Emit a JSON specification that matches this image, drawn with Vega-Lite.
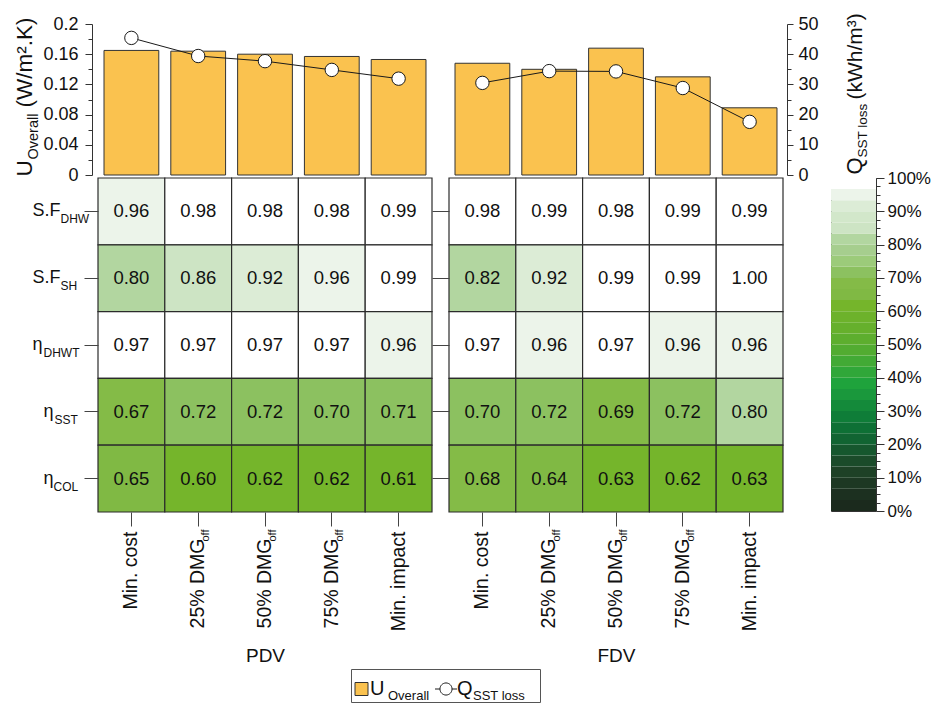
{
  "$schema": "https://vega.github.io/schema/vega-lite/v6.json",
  "padding": {"left": 13, "top": 12, "right": 2, "bottom": 0},
  "config": {
    "font": "Liberation Sans",
    "view": {"stroke": null},
    "axis": {"grid": false, "labelFont": "Liberation Sans", "titleFont": "Liberation Sans", "titleFontWeight": "normal", "labelColor": "#111", "titleColor": "#111", "domainColor": "#333", "tickColor": "#333", "labelOverlap": false}
  },
  "datasets": {
    "perf": [
      {"design": "PDV", "scheme": "Min. cost", "U": 0.165, "Q": 45.4},
      {"design": "PDV", "scheme": "25% DMG off", "U": 0.164, "Q": 39.4},
      {"design": "PDV", "scheme": "50% DMG off", "U": 0.160, "Q": 37.7},
      {"design": "PDV", "scheme": "75% DMG off", "U": 0.157, "Q": 34.8},
      {"design": "PDV", "scheme": "Min. impact", "U": 0.153, "Q": 31.9},
      {"design": "FDV", "scheme": "Min. cost", "U": 0.148, "Q": 30.5},
      {"design": "FDV", "scheme": "25% DMG off", "U": 0.140, "Q": 34.4},
      {"design": "FDV", "scheme": "50% DMG off", "U": 0.168, "Q": 34.3},
      {"design": "FDV", "scheme": "75% DMG off", "U": 0.130, "Q": 28.8},
      {"design": "FDV", "scheme": "Min. impact", "U": 0.089, "Q": 17.6}
    ],
    "heat": [
      {"design": "PDV", "metric": "S.F_DHW", "scheme": "Min. cost", "value": 0.96},
      {"design": "PDV", "metric": "S.F_DHW", "scheme": "25% DMG off", "value": 0.98},
      {"design": "PDV", "metric": "S.F_DHW", "scheme": "50% DMG off", "value": 0.98},
      {"design": "PDV", "metric": "S.F_DHW", "scheme": "75% DMG off", "value": 0.98},
      {"design": "PDV", "metric": "S.F_DHW", "scheme": "Min. impact", "value": 0.99},
      {"design": "PDV", "metric": "S.F_SH", "scheme": "Min. cost", "value": 0.80},
      {"design": "PDV", "metric": "S.F_SH", "scheme": "25% DMG off", "value": 0.86},
      {"design": "PDV", "metric": "S.F_SH", "scheme": "50% DMG off", "value": 0.92},
      {"design": "PDV", "metric": "S.F_SH", "scheme": "75% DMG off", "value": 0.96},
      {"design": "PDV", "metric": "S.F_SH", "scheme": "Min. impact", "value": 0.99},
      {"design": "PDV", "metric": "η_DHWT", "scheme": "Min. cost", "value": 0.97},
      {"design": "PDV", "metric": "η_DHWT", "scheme": "25% DMG off", "value": 0.97},
      {"design": "PDV", "metric": "η_DHWT", "scheme": "50% DMG off", "value": 0.97},
      {"design": "PDV", "metric": "η_DHWT", "scheme": "75% DMG off", "value": 0.97},
      {"design": "PDV", "metric": "η_DHWT", "scheme": "Min. impact", "value": 0.96},
      {"design": "PDV", "metric": "η_SST", "scheme": "Min. cost", "value": 0.67},
      {"design": "PDV", "metric": "η_SST", "scheme": "25% DMG off", "value": 0.72},
      {"design": "PDV", "metric": "η_SST", "scheme": "50% DMG off", "value": 0.72},
      {"design": "PDV", "metric": "η_SST", "scheme": "75% DMG off", "value": 0.70},
      {"design": "PDV", "metric": "η_SST", "scheme": "Min. impact", "value": 0.71},
      {"design": "PDV", "metric": "η_COL", "scheme": "Min. cost", "value": 0.65},
      {"design": "PDV", "metric": "η_COL", "scheme": "25% DMG off", "value": 0.60},
      {"design": "PDV", "metric": "η_COL", "scheme": "50% DMG off", "value": 0.62},
      {"design": "PDV", "metric": "η_COL", "scheme": "75% DMG off", "value": 0.62},
      {"design": "PDV", "metric": "η_COL", "scheme": "Min. impact", "value": 0.61},
      {"design": "FDV", "metric": "S.F_DHW", "scheme": "Min. cost", "value": 0.98},
      {"design": "FDV", "metric": "S.F_DHW", "scheme": "25% DMG off", "value": 0.99},
      {"design": "FDV", "metric": "S.F_DHW", "scheme": "50% DMG off", "value": 0.98},
      {"design": "FDV", "metric": "S.F_DHW", "scheme": "75% DMG off", "value": 0.99},
      {"design": "FDV", "metric": "S.F_DHW", "scheme": "Min. impact", "value": 0.99},
      {"design": "FDV", "metric": "S.F_SH", "scheme": "Min. cost", "value": 0.82},
      {"design": "FDV", "metric": "S.F_SH", "scheme": "25% DMG off", "value": 0.92},
      {"design": "FDV", "metric": "S.F_SH", "scheme": "50% DMG off", "value": 0.99},
      {"design": "FDV", "metric": "S.F_SH", "scheme": "75% DMG off", "value": 0.99},
      {"design": "FDV", "metric": "S.F_SH", "scheme": "Min. impact", "value": 1.00},
      {"design": "FDV", "metric": "η_DHWT", "scheme": "Min. cost", "value": 0.97},
      {"design": "FDV", "metric": "η_DHWT", "scheme": "25% DMG off", "value": 0.96},
      {"design": "FDV", "metric": "η_DHWT", "scheme": "50% DMG off", "value": 0.97},
      {"design": "FDV", "metric": "η_DHWT", "scheme": "75% DMG off", "value": 0.96},
      {"design": "FDV", "metric": "η_DHWT", "scheme": "Min. impact", "value": 0.96},
      {"design": "FDV", "metric": "η_SST", "scheme": "Min. cost", "value": 0.70},
      {"design": "FDV", "metric": "η_SST", "scheme": "25% DMG off", "value": 0.72},
      {"design": "FDV", "metric": "η_SST", "scheme": "50% DMG off", "value": 0.69},
      {"design": "FDV", "metric": "η_SST", "scheme": "75% DMG off", "value": 0.72},
      {"design": "FDV", "metric": "η_SST", "scheme": "Min. impact", "value": 0.80},
      {"design": "FDV", "metric": "η_COL", "scheme": "Min. cost", "value": 0.68},
      {"design": "FDV", "metric": "η_COL", "scheme": "25% DMG off", "value": 0.64},
      {"design": "FDV", "metric": "η_COL", "scheme": "50% DMG off", "value": 0.63},
      {"design": "FDV", "metric": "η_COL", "scheme": "75% DMG off", "value": 0.62},
      {"design": "FDV", "metric": "η_COL", "scheme": "Min. impact", "value": 0.63}
    ],
    "levels": [
      {"lo": 0, "hi": 0.0333}, {"lo": 0.0333, "hi": 0.0667}, {"lo": 0.0667, "hi": 0.1},
      {"lo": 0.1, "hi": 0.1333}, {"lo": 0.1333, "hi": 0.1667}, {"lo": 0.1667, "hi": 0.2},
      {"lo": 0.2, "hi": 0.2333}, {"lo": 0.2333, "hi": 0.2667}, {"lo": 0.2667, "hi": 0.3},
      {"lo": 0.3, "hi": 0.3333}, {"lo": 0.3333, "hi": 0.3667}, {"lo": 0.3667, "hi": 0.4},
      {"lo": 0.4, "hi": 0.4333}, {"lo": 0.4333, "hi": 0.4667}, {"lo": 0.4667, "hi": 0.5},
      {"lo": 0.5, "hi": 0.5333}, {"lo": 0.5333, "hi": 0.5667}, {"lo": 0.5667, "hi": 0.6},
      {"lo": 0.6, "hi": 0.6333}, {"lo": 0.6333, "hi": 0.6667}, {"lo": 0.6667, "hi": 0.7},
      {"lo": 0.7, "hi": 0.7333}, {"lo": 0.7333, "hi": 0.7667}, {"lo": 0.7667, "hi": 0.8},
      {"lo": 0.8, "hi": 0.8333}, {"lo": 0.8333, "hi": 0.8667}, {"lo": 0.8667, "hi": 0.9},
      {"lo": 0.9, "hi": 0.9333}, {"lo": 0.9333, "hi": 0.9667}, {"lo": 0.9667, "hi": 1}
    ],
    "legendItems": [
      {"key": "U", "sub": "Overall"},
      {"key": "Q", "sub": "SST loss"}
    ]
  },
  "vconcat": [
    {
      "concat": [
        {
          "width": 334, "height": 151,
          "data": {"name": "perf"},
          "transform": [{"filter": "datum.design === 'PDV'"}],
          "encoding": {"x": {"field": "scheme", "type": "nominal", "sort": ["Min. cost", "25% DMG off", "50% DMG off", "75% DMG off", "Min. impact"], "axis": null, "scale": {"paddingInner": 0.18, "paddingOuter": 0.09}}},
          "layer": [
            {
              "mark": {"type": "bar", "fill": "#fac24f", "stroke": "#333", "strokeWidth": 1},
              "encoding": {"y": {"field": "U", "type": "quantitative", "scale": {"domain": [0, 0.2], "nice": false},
                "axis": {"orient": "left", "values": [0, 0.04, 0.08, 0.12, 0.16, 0.2], "format": "~g", "offset": 6, "tickSize": 7, "labelPadding": 7, "labelFontSize": 18,
                  "title": "U", "titleFontSize": 22.5, "titleAngle": 270, "titleAlign": "left", "titleBaseline": "alphabetic", "titleX": -61, "titleY": 152}}}
            },
            {
              "mark": {"type": "line", "color": "#1a1a1a", "strokeWidth": 1},
              "encoding": {"y": {"field": "Q", "type": "quantitative", "scale": {"domain": [0, 50], "nice": false}, "axis": null}}
            },
            {
              "mark": {"type": "point", "filled": true, "fill": "#ffffff", "stroke": "#1a1a1a", "strokeWidth": 1, "size": 180, "opacity": 1},
              "encoding": {"y": {"field": "Q", "type": "quantitative", "scale": {"domain": [0, 50], "nice": false}, "axis": null}}
            },
            {
              "mark": {"type": "point", "opacity": 0},
              "encoding": {"y": {"field": "U", "type": "quantitative", "scale": {"domain": [0, 0.2], "nice": false},
                "axis": {"orient": "left", "values": [0.02, 0.06, 0.1, 0.14, 0.18], "labels": false, "domain": false, "offset": 6, "tickSize": 4,
                  "title": "Overall", "titleFontSize": 14.5, "titleAngle": 270, "titleAlign": "left", "titleBaseline": "alphabetic", "titleX": -55, "titleY": 135}}}
            },
            {
              "mark": {"type": "point", "opacity": 0},
              "encoding": {"y": {"field": "U", "type": "quantitative", "scale": {"domain": [0, 0.2], "nice": false},
                "axis": {"orient": "left", "ticks": false, "labels": false, "domain": false, "offset": 6,
                  "title": "(W/m².K)", "titleFontSize": 22.5, "titleAngle": 270, "titleAlign": "left", "titleBaseline": "alphabetic", "titleX": -61, "titleY": 83}}}
            }
          ],
          "resolve": {"scale": {"y": "independent"}, "axis": {"y": "independent"}}
        },
        {
          "width": 334, "height": 151,
          "data": {"name": "perf"},
          "transform": [{"filter": "datum.design === 'FDV'"}],
          "encoding": {"x": {"field": "scheme", "type": "nominal", "sort": ["Min. cost", "25% DMG off", "50% DMG off", "75% DMG off", "Min. impact"], "axis": null, "scale": {"paddingInner": 0.18, "paddingOuter": 0.09}}},
          "layer": [
            {
              "mark": {"type": "bar", "fill": "#fac24f", "stroke": "#333", "strokeWidth": 1},
              "encoding": {"y": {"field": "U", "type": "quantitative", "scale": {"domain": [0, 0.2], "nice": false}, "axis": null}}
            },
            {
              "mark": {"type": "line", "color": "#1a1a1a", "strokeWidth": 1},
              "encoding": {"y": {"field": "Q", "type": "quantitative", "scale": {"domain": [0, 50], "nice": false}, "axis": null}}
            },
            {
              "mark": {"type": "point", "filled": true, "fill": "#ffffff", "stroke": "#1a1a1a", "strokeWidth": 1, "size": 180, "opacity": 1},
              "encoding": {"y": {"field": "Q", "type": "quantitative", "scale": {"domain": [0, 50], "nice": false},
                "axis": {"orient": "right", "values": [0, 10, 20, 30, 40, 50], "offset": 4, "tickSize": 6, "labelPadding": 5, "labelFontSize": 18,
                  "title": "Q", "titleFontSize": 22, "titleAngle": 270, "titleAlign": "left", "titleBaseline": "alphabetic", "titleX": 74, "titleY": 150}}}
            },
            {
              "mark": {"type": "point", "opacity": 0},
              "encoding": {"y": {"field": "Q", "type": "quantitative", "scale": {"domain": [0, 50], "nice": false},
                "axis": {"orient": "right", "values": [5, 15, 25, 35, 45], "labels": false, "domain": false, "offset": 4, "tickSize": 4,
                  "title": "SST loss", "titleFontSize": 13.5, "titleAngle": 270, "titleAlign": "left", "titleBaseline": "alphabetic", "titleX": 79, "titleY": 133}}}
            },
            {
              "mark": {"type": "point", "opacity": 0},
              "encoding": {"y": {"field": "Q", "type": "quantitative", "scale": {"domain": [0, 50], "nice": false},
                "axis": {"orient": "right", "ticks": false, "labels": false, "domain": false, "offset": 4,
                  "title": "(kWh/m³)", "titleFontSize": 21, "titleAngle": 270, "titleAlign": "left", "titleBaseline": "alphabetic", "titleX": 74, "titleY": 75}}}
            }
          ],
          "resolve": {"scale": {"y": "independent"}, "axis": {"y": "independent"}}
        },
        {
          "width": 14, "height": 1,
          "data": {"name": "levels"},
          "mark": {"type": "point", "opacity": 0},
          "encoding": {"y": {"field": "lo", "type": "quantitative", "axis": null}}
        },
        {
          "width": 45, "height": 1,
          "data": {"name": "levels"},
          "mark": {"type": "point", "opacity": 0},
          "encoding": {"y": {"field": "lo", "type": "quantitative", "axis": null}}
        },
        {
          "width": 334, "height": 334,
          "data": {"name": "heat"},
          "transform": [{"filter": "datum.design === 'PDV'"}],
          "layer": [
            {
              "mark": {"type": "rect", "stroke": "#2b2b2b", "strokeWidth": 1.2},
              "encoding": {
                "x": {"field": "scheme", "type": "nominal", "sort": ["Min. cost", "25% DMG off", "50% DMG off", "75% DMG off", "Min. impact"], "scale": {"paddingInner": 0, "paddingOuter": 0},
                  "axis": {"orient": "bottom", "labelAngle": -90, "labelAlign": "right", "labelBaseline": "middle", "labelFontSize": 19.5, "tickSize": 14, "domain": false, "tickColor": "#444",
                    "labelExpr": "replace(datum.label, ' off', '')",
                    "labelPadding": {"condition": {"test": "indexof(datum.value, 'off') >= 0", "value": 12}, "value": 5},
                    "title": "PDV", "titleFontSize": 19, "titlePadding": 16}},
                "y": {"field": "metric", "type": "nominal", "sort": ["S.F_DHW", "S.F_SH", "η_DHWT", "η_SST", "η_COL"], "scale": {"paddingInner": 0, "paddingOuter": 0},
                  "axis": {"orient": "left", "labelAlign": "left", "labelBaseline": "middle", "labelFontSize": 18, "tickSize": 14, "domain": false, "tickColor": "#444",
                    "labelExpr": "split(datum.value, '_')[0]",
                    "labelPadding": {"condition": {"test": "datum.value === 'η_SST' || datum.value === 'η_COL'", "value": 41}, "value": 52},
                    "title": null}},
                "fill": {"field": "value", "type": "quantitative", "legend": null,
                  "scale": {"type": "threshold",
                    "domain": [0.0333, 0.0667, 0.1, 0.1333, 0.1667, 0.2, 0.2333, 0.2667, 0.3, 0.3333, 0.3667, 0.4, 0.4333, 0.4667, 0.5, 0.5333, 0.5667, 0.6, 0.6333, 0.6667, 0.7, 0.7333, 0.7667, 0.8, 0.8333, 0.8667, 0.9, 0.9333, 0.9667],
                    "range": ["#1b2a1d", "#1c3020", "#1d3823", "#1e4126", "#1b4b2a", "#16572e", "#116432", "#0e7035", "#0f7d38", "#148a3a", "#1a983c", "#1fa33c", "#30a739", "#42aa35", "#52ac31", "#5dae2e", "#66b02c", "#6db22b", "#75b52b", "#80b944", "#84bb47", "#8cc160", "#9ccb7a", "#a6ce8e", "#b2d6a0", "#cde4c4", "#d2e7ca", "#dcecd6", "#ecf4ea", "#ffffff"]}}
              }
            },
            {
              "mark": {"type": "text", "fontSize": 18.5, "color": "#111"},
              "encoding": {
                "text": {"field": "value", "type": "quantitative", "format": ".2f"},
                "x": {"field": "scheme", "type": "nominal", "sort": ["Min. cost", "25% DMG off", "50% DMG off", "75% DMG off", "Min. impact"],
                  "axis": {"orient": "bottom", "labelAngle": -90, "labelAlign": "right", "labelBaseline": "middle", "labelFontSize": 11, "ticks": false, "tickSize": 0, "domain": false,
                    "labelExpr": "indexof(datum.value, 'off') >= 0 ? 'off' : ''", "labelPadding": 17, "labelOffset": 8, "title": null}},
                "y": {"field": "metric", "type": "nominal", "sort": ["S.F_DHW", "S.F_SH", "η_DHWT", "η_SST", "η_COL"],
                  "axis": {"orient": "left", "labelAlign": "left", "labelBaseline": "middle", "labelFontSize": 12, "ticks": false, "tickSize": 0, "domain": false,
                    "labelExpr": "split(datum.value, '_')[1]", "labelOffset": 8,
                    "labelPadding": {"condition": [
                      {"test": "datum.value === 'η_DHWT'", "value": 55},
                      {"test": "datum.value === 'η_SST'", "value": 44},
                      {"test": "datum.value === 'η_COL'", "value": 45}
                    ], "value": 38},
                    "title": null}}
              }
            }
          ],
          "resolve": {"axis": {"x": "independent", "y": "independent"}}
        },
        {
          "width": 334, "height": 334,
          "data": {"name": "heat"},
          "transform": [{"filter": "datum.design === 'FDV'"}],
          "layer": [
            {
              "mark": {"type": "rect", "stroke": "#2b2b2b", "strokeWidth": 1.2},
              "encoding": {
                "x": {"field": "scheme", "type": "nominal", "sort": ["Min. cost", "25% DMG off", "50% DMG off", "75% DMG off", "Min. impact"], "scale": {"paddingInner": 0, "paddingOuter": 0},
                  "axis": {"orient": "bottom", "labelAngle": -90, "labelAlign": "right", "labelBaseline": "middle", "labelFontSize": 19.5, "tickSize": 14, "domain": false, "tickColor": "#444",
                    "labelExpr": "replace(datum.label, ' off', '')",
                    "labelPadding": {"condition": {"test": "indexof(datum.value, 'off') >= 0", "value": 12}, "value": 5},
                    "title": "FDV", "titleFontSize": 19, "titlePadding": 16}},
                "y": {"field": "metric", "type": "nominal", "sort": ["S.F_DHW", "S.F_SH", "η_DHWT", "η_SST", "η_COL"], "scale": {"paddingInner": 0, "paddingOuter": 0},
                  "axis": {"orient": "left", "labels": false, "tickSize": 17, "domain": false, "tickColor": "#444", "title": null}},
                "fill": {"field": "value", "type": "quantitative", "legend": null,
                  "scale": {"type": "threshold",
                    "domain": [0.0333, 0.0667, 0.1, 0.1333, 0.1667, 0.2, 0.2333, 0.2667, 0.3, 0.3333, 0.3667, 0.4, 0.4333, 0.4667, 0.5, 0.5333, 0.5667, 0.6, 0.6333, 0.6667, 0.7, 0.7333, 0.7667, 0.8, 0.8333, 0.8667, 0.9, 0.9333, 0.9667],
                    "range": ["#1b2a1d", "#1c3020", "#1d3823", "#1e4126", "#1b4b2a", "#16572e", "#116432", "#0e7035", "#0f7d38", "#148a3a", "#1a983c", "#1fa33c", "#30a739", "#42aa35", "#52ac31", "#5dae2e", "#66b02c", "#6db22b", "#75b52b", "#80b944", "#84bb47", "#8cc160", "#9ccb7a", "#a6ce8e", "#b2d6a0", "#cde4c4", "#d2e7ca", "#dcecd6", "#ecf4ea", "#ffffff"]}}
              }
            },
            {
              "mark": {"type": "text", "fontSize": 18.5, "color": "#111"},
              "encoding": {
                "text": {"field": "value", "type": "quantitative", "format": ".2f"},
                "x": {"field": "scheme", "type": "nominal", "sort": ["Min. cost", "25% DMG off", "50% DMG off", "75% DMG off", "Min. impact"],
                  "axis": {"orient": "bottom", "labelAngle": -90, "labelAlign": "right", "labelBaseline": "middle", "labelFontSize": 11, "ticks": false, "tickSize": 0, "domain": false,
                    "labelExpr": "indexof(datum.value, 'off') >= 0 ? 'off' : ''", "labelPadding": 17, "labelOffset": 8, "title": null}},
                "y": {"field": "metric", "type": "nominal", "sort": ["S.F_DHW", "S.F_SH", "η_DHWT", "η_SST", "η_COL"], "axis": null}
              }
            }
          ],
          "resolve": {"axis": {"x": "independent", "y": "independent"}}
        },
        {
          "width": 14, "height": 1,
          "data": {"name": "levels"},
          "mark": {"type": "point", "opacity": 0},
          "encoding": {"y": {"field": "lo", "type": "quantitative", "axis": null}}
        },
        {
          "width": 45, "height": 333,
          "data": {"name": "levels"},
          "view": {"stroke": "#333", "strokeWidth": 1},
          "layer": [
            {
              "mark": {"type": "rect"},
              "encoding": {
                "x": {"datum": 0, "type": "quantitative", "scale": {"domain": [0, 1], "nice": false}, "axis": null},
                "x2": {"datum": 1},
                "y": {"field": "lo", "type": "quantitative", "scale": {"domain": [0, 1], "nice": false},
                  "axis": {"orient": "right", "values": [0, 0.1, 0.2, 0.3, 0.4, 0.5, 0.6, 0.7, 0.8, 0.9, 1], "format": ".0%", "tickSize": 8, "labelPadding": 3, "labelFontSize": 17, "domain": false, "title": null}},
                "y2": {"field": "hi"},
                "fill": {"field": "lo", "type": "quantitative", "legend": null,
                  "scale": {"type": "threshold",
                    "domain": [0.0333, 0.0667, 0.1, 0.1333, 0.1667, 0.2, 0.2333, 0.2667, 0.3, 0.3333, 0.3667, 0.4, 0.4333, 0.4667, 0.5, 0.5333, 0.5667, 0.6, 0.6333, 0.6667, 0.7, 0.7333, 0.7667, 0.8, 0.8333, 0.8667, 0.9, 0.9333, 0.9667],
                    "range": ["#1b2a1d", "#1c3020", "#1d3823", "#1e4126", "#1b4b2a", "#16572e", "#116432", "#0e7035", "#0f7d38", "#148a3a", "#1a983c", "#1fa33c", "#30a739", "#42aa35", "#52ac31", "#5dae2e", "#66b02c", "#6db22b", "#75b52b", "#80b944", "#84bb47", "#8cc160", "#9ccb7a", "#a6ce8e", "#b2d6a0", "#cde4c4", "#d2e7ca", "#dcecd6", "#ecf4ea", "#ffffff"]}}
              }
            },
            {
              "mark": {"type": "point", "opacity": 0},
              "encoding": {
                "y": {"field": "lo", "type": "quantitative", "scale": {"domain": [0, 1], "nice": false},
                  "axis": {"orient": "right", "values": [0.025, 0.05, 0.075, 0.125, 0.15, 0.175, 0.225, 0.25, 0.275, 0.325, 0.35, 0.375, 0.425, 0.45, 0.475, 0.525, 0.55, 0.575, 0.625, 0.65, 0.675, 0.725, 0.75, 0.775, 0.825, 0.85, 0.875, 0.925, 0.95, 0.975], "labels": false, "tickSize": 4, "domain": false, "title": null}}
              }
            }
          ],
          "resolve": {"axis": {"y": "independent"}}
        }
      ],
      "columns": 4, "spacing": {"row": 3, "column": 17}, "bounds": "flush"
    },
    {
      "hconcat": [
        {
          "width": 236, "height": 33,
          "data": {"name": "levels"},
          "mark": {"type": "point", "opacity": 0},
          "encoding": {"y": {"field": "lo", "type": "quantitative", "axis": {"domainOpacity": 0, "ticks": false, "labels": false, "title": null}}}
        },
        {
          "width": 189, "height": 33,
          "data": {"name": "legendItems"},
          "view": {"stroke": "#555", "strokeWidth": 1},
          "encoding": {"x": {"field": "key", "type": "nominal", "sort": ["U", "Q"], "axis": null}},
          "layer": [
            {
              "transform": [{"filter": "datum.key === 'U'"}],
              "mark": {"type": "point", "shape": "square", "size": 169, "filled": true, "fill": "#fac24f", "stroke": "#333", "strokeWidth": 1, "opacity": 1, "xOffset": -36.75, "yOffset": 3.5}
            },
            {
              "transform": [{"filter": "datum.key === 'Q'"}],
              "mark": {"type": "point", "shape": "M-1,0H-0.55M0.55,0H1M0.55,0A0.55,0.55,0,1,1,-0.55,0A0.55,0.55,0,1,1,0.55,0Z", "size": 484, "filled": true, "fill": "#ffffff", "stroke": "#1a1a1a", "strokeWidth": 1, "opacity": 1, "xOffset": -46.75, "yOffset": 3.5}
            },
            {
              "transform": [{"filter": "datum.key === 'U'"}],
              "mark": {"type": "text", "fontSize": 20, "align": "left", "baseline": "alphabetic", "dx": -28.25, "dy": 9.5, "color": "#111"},
              "encoding": {"text": {"field": "key"}}
            },
            {
              "transform": [{"filter": "datum.key === 'U'"}],
              "mark": {"type": "text", "fontSize": 13, "align": "left", "baseline": "alphabetic", "dx": -10.25, "dy": 14.5, "color": "#111"},
              "encoding": {"text": {"field": "sub"}}
            },
            {
              "transform": [{"filter": "datum.key === 'Q'"}],
              "mark": {"type": "text", "fontSize": 20, "align": "left", "baseline": "alphabetic", "dx": -35.75, "dy": 9.5, "color": "#111"},
              "encoding": {"text": {"field": "key"}}
            },
            {
              "transform": [{"filter": "datum.key === 'Q'"}],
              "mark": {"type": "text", "fontSize": 13, "align": "left", "baseline": "alphabetic", "dx": -19.75, "dy": 14.5, "color": "#111"},
              "encoding": {"text": {"field": "sub"}}
            }
          ]
        }
      ],
      "spacing": 17, "bounds": "flush"
    }
  ],
  "spacing": 1
}
